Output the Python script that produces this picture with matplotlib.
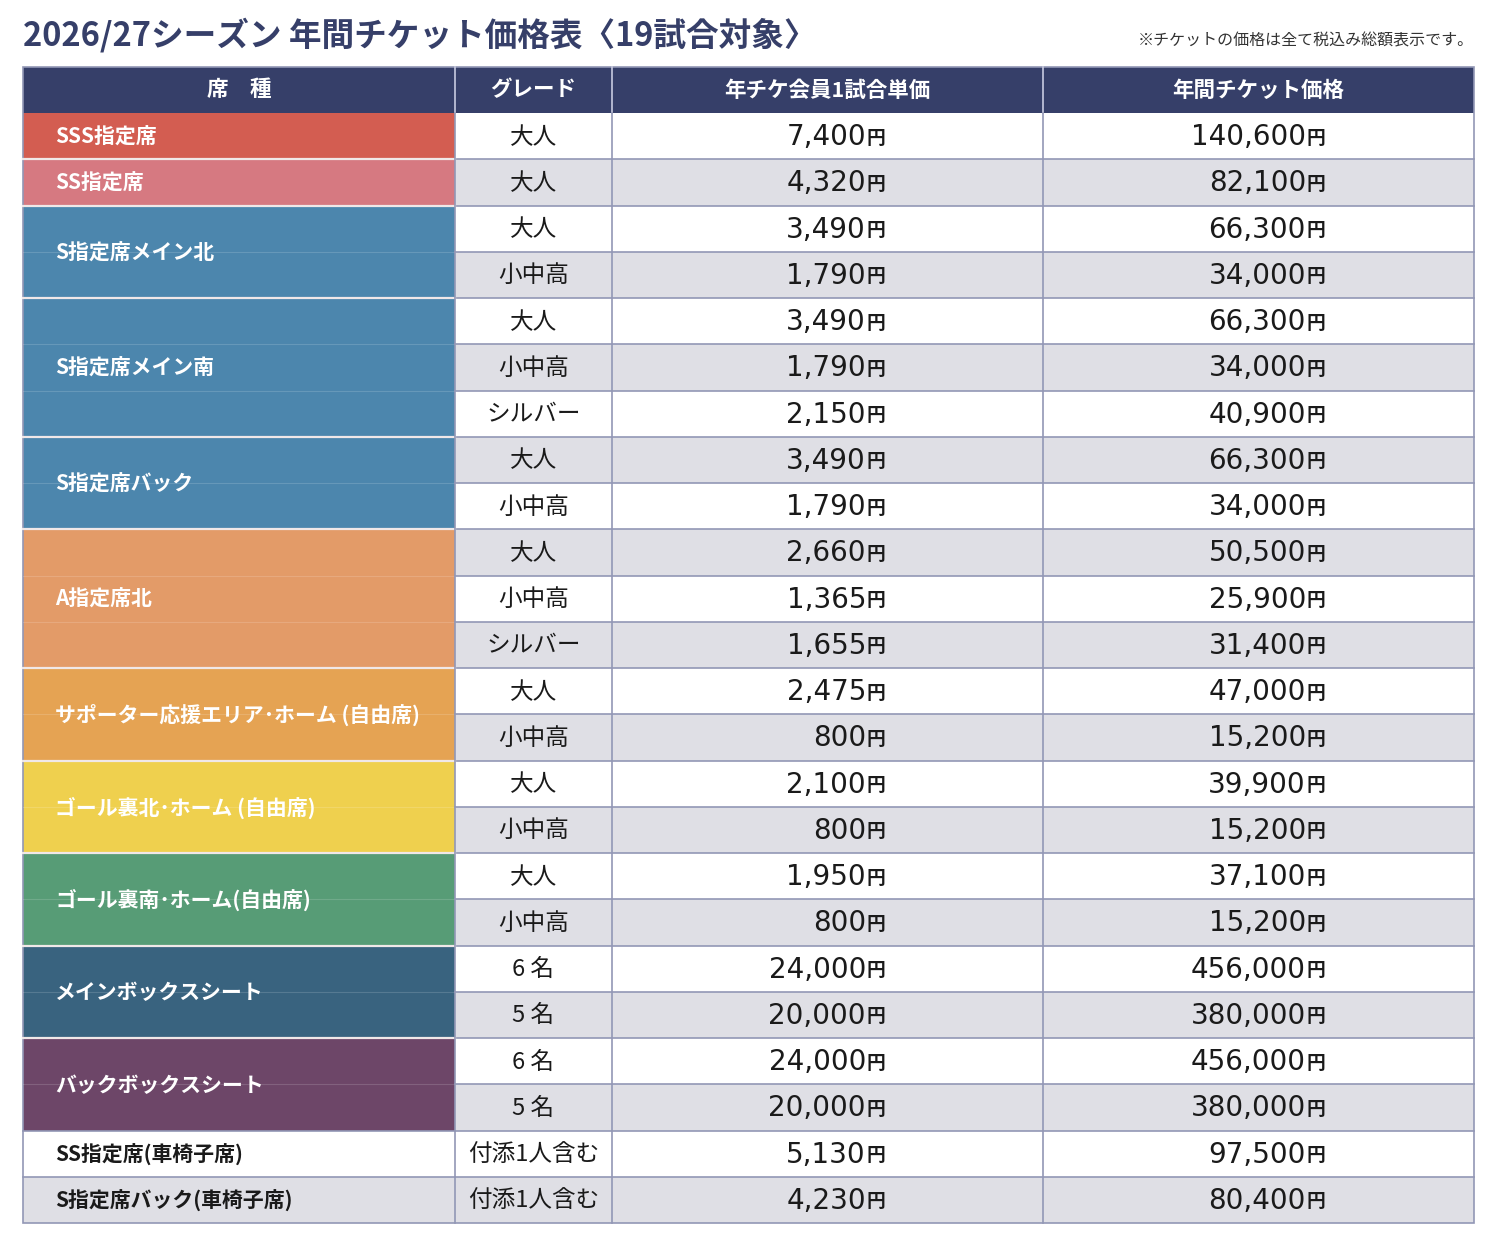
import matplotlib.pyplot as plt
from matplotlib.patches import Rectangle

plt.rcParams['font.family'] = ['Noto Sans CJK JP', 'DejaVu Sans']

title = "2026/27シーズン 年間チケット価格表〈19試合対象〉"
note = "※チケットの価格は全て税込み総額表示です。"
headers = ["席　種", "グレード", "年チケ会員1試合単価", "年間チケット価格"]

# seat groups: label, number of rows, colour
seat_names = ["SSS指定席", "SS指定席", "S指定席メイン北", "S指定席メイン南", "S指定席バック",
              "A指定席北", "サポーター応援エリア･ホーム (自由席)", "ゴール裏北･ホーム (自由席)",
              "ゴール裏南･ホーム(自由席)", "メインボックスシート", "バックボックスシート",
              "SS指定席(車椅子席)", "S指定席バック(車椅子席)"]
seat_spans = [1, 1, 2, 3, 2, 3, 2, 2, 2, 2, 2, 1, 1]
seat_colors = ["#d35d51", "#d67981", "#4c86ad", "#4c86ad", "#4c86ad", "#e39b68",
               "#e5a353", "#efd04e", "#579c76", "#39637f", "#6d4668", None, None]

grades = ["大人", "大人", "大人", "小中高", "大人", "小中高", "シルバー", "大人", "小中高",
          "大人", "小中高", "シルバー", "大人", "小中高", "大人", "小中高", "大人", "小中高",
          "6 名", "5 名", "6 名", "5 名", "付添1人含む", "付添1人含む"]
per_game = [7400, 4320, 3490, 1790, 3490, 1790, 2150, 3490, 1790, 2660, 1365, 1655,
            2475, 800, 2100, 800, 1950, 800, 24000, 20000, 24000, 20000, 5130, 4230]
annual = [140600, 82100, 66300, 34000, 66300, 34000, 40900, 66300, 34000, 50500, 25900, 31400,
          47000, 15200, 39900, 15200, 37100, 15200, 456000, 380000, 456000, 380000, 97500, 80400]

W, H = 1500, 1241
fig = plt.figure(figsize=(W / 100, H / 100), dpi=100)
ax = fig.add_axes([0, 0, 1, 1])
ax.set_xlim(0, W)
ax.set_ylim(H, 0)
ax.axis('off')

navy = "#363f69"
grid = "#9297b5"
gray = "#dfdfe5"
cols = [23, 455, 612, 1043, 1474]
head_top, head_bot = 67, 113
row_h = (1223 - head_bot) / len(grades)

ax.text(23, 35, title, fontsize=23.5, fontweight='bold', color=navy, va='center', ha='left')
ax.text(1474, 41, note, fontsize=11.5, color="#333333", va='center', ha='right')

# header
ax.add_patch(Rectangle((cols[0], head_top), cols[-1] - cols[0], head_bot - head_top, color=navy, lw=0))
for i, h in enumerate(headers):
    ax.text((cols[i] + cols[i + 1]) / 2, (head_top + head_bot) / 2, h, color='white',
            fontsize=15.5, fontweight='bold', ha='center', va='center')
for x in cols[1:-1]:
    ax.plot([x, x], [head_top, head_bot], color="#c8cbe0", lw=1.2)

# body rows (right three columns)
for r in range(len(grades)):
    y0 = head_bot + r * row_h
    yc = y0 + row_h / 2
    bg = 'white' if r % 2 == 0 else gray
    ax.add_patch(Rectangle((cols[1], y0), cols[-1] - cols[1], row_h, color=bg, lw=0))
    ax.text((cols[1] + cols[2]) / 2, yc + 1, grades[r], fontsize=17, color="#1a1a1a",
            ha='center', va='center')
    ax.text(866, yc + 1, f"{per_game[r]:,}", fontsize=20, color="#1a1a1a", ha='right',
            va='center', family='DejaVu Sans')
    ax.text(867, yc + 2, "円", fontsize=13.5, fontweight='bold', color="#1a1a1a", ha='left', va='center')
    ax.text(1306, yc + 1, f"{annual[r]:,}", fontsize=20, color="#1a1a1a", ha='right',
            va='center', family='DejaVu Sans')
    ax.text(1307, yc + 2, "円", fontsize=13.5, fontweight='bold', color="#1a1a1a", ha='left', va='center')
    if r > 0:
        ax.plot([cols[1], cols[-1]], [y0, y0], color=grid, lw=1.2)

# seat column
r = 0
for name, span, c in zip(seat_names, seat_spans, seat_colors):
    y0 = head_bot + r * row_h
    hgt = span * row_h
    if c is None:
        bg = 'white' if r % 2 == 0 else gray
        ax.add_patch(Rectangle((cols[0], y0), cols[1] - cols[0], hgt, color=bg, lw=0))
        ax.text(55, y0 + hgt / 2 + 1, name, fontsize=15, fontweight='bold', color="#1a1a1a",
                ha='left', va='center')
        ax.plot([cols[0], cols[1]], [y0, y0], color=grid, lw=1.2)
    else:
        ax.add_patch(Rectangle((cols[0], y0), cols[1] - cols[0], hgt, color=c, lw=0))
        for k in range(1, span):
            yy = y0 + k * row_h
            ax.plot([cols[0], cols[1]], [yy, yy], color='white', lw=0.8, alpha=0.15)
        ax.text(55, y0 + hgt / 2 + 1, name, fontsize=15, fontweight='bold', color='white',
                ha='left', va='center')
        if r > 0:
            ax.plot([cols[0], cols[1]], [y0, y0], color='#f0e8e8', lw=1.6)
    r += span

# vertical lines and border
for x in cols[1:-1]:
    ax.plot([x, x], [head_bot, 1223], color=grid, lw=1.2)
ax.add_patch(Rectangle((cols[0], head_top), cols[-1] - cols[0], 1223 - head_top,
                       fill=False, edgecolor=grid, lw=1.2))

fig.savefig("out.png", dpi=100)
